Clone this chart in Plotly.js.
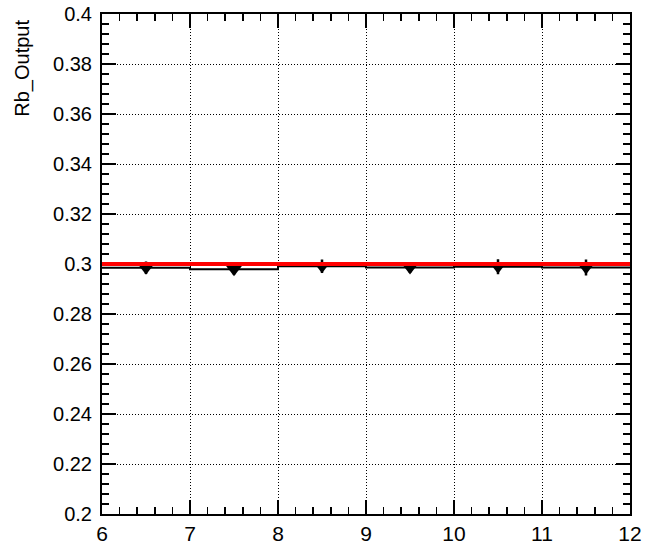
<!DOCTYPE html>
<html>
<head>
<meta charset="utf-8">
<script src="https://cdn.plot.ly/plotly-3.0.1.min.js"></script>
<style>html,body{margin:0;padding:0;background:#fff;}#chart{width:646px;height:545px;}</style>
</head>
<body>
<div id="chart"></div>
<script>
const binCenters = [6.5, 7.5, 8.5, 9.5, 10.5, 11.5];
const binWidth = 1;
const rbValues = [0.2985, 0.2979, 0.2991, 0.2986, 0.2989, 0.2986];
const rbErrors = [0.0025, 0.0022, 0.0027, 0.0022, 0.0030, 0.0032];
const refValue = 0.3;
const xTicks = [6, 7, 8, 9, 10, 11, 12];
const yTicks = [0.2, 0.22, 0.24, 0.26, 0.28, 0.3, 0.32, 0.34, 0.36, 0.38, 0.4];
const yTickLabels = ['0.2','0.22','0.24','0.26','0.28','0.3','0.32','0.34','0.36','0.38','0.4'];

// step outline from bin edges
const stepX = binCenters.map(c => c - binWidth / 2).concat([binCenters[binCenters.length - 1] + binWidth / 2]);
const stepY = rbValues.concat([rbValues[rbValues.length - 1]]);

const fam = 'Liberation Sans, Arial, sans-serif';

const traces = [
  {x: stepX, y: stepY, type: 'scatter', mode: 'lines', line: {shape: 'hv', color: '#000', width: 2}, hoverinfo: 'skip'},
  {x: binCenters, y: rbValues, type: 'scatter', mode: 'markers',
   marker: {symbol: 'triangle-down', size: 14, color: '#000'},
   error_y: {type: 'data', array: rbErrors, visible: true, color: '#000', thickness: 2.5, width: 0}}
];

const axisCommon = {
  showline: true, linecolor: '#000', linewidth: 2, mirror: 'allticks',
  ticks: 'inside', ticklen: 14, tickwidth: 1.5, tickcolor: '#000',
  showgrid: true, gridcolor: '#000', gridwidth: 1, griddash: '1px,2px',
  zeroline: false
};

const layout = {
  width: 646, height: 545,
  margin: {l: 102, r: 16, t: 14, b: 31},
  paper_bgcolor: '#fff', plot_bgcolor: '#fff',
  showlegend: false,
  xaxis: Object.assign({}, axisCommon, {
    range: [6, 12], tickmode: 'array', tickvals: xTicks, ticktext: xTicks.map(String),
    tickfont: {family: fam, size: 21, color: '#000'},
    minor: {dtick: 0.2, ticklen: 7, tickcolor: '#000', tickwidth: 1.5, ticks: 'inside', showgrid: false}
  }),
  yaxis: Object.assign({}, axisCommon, {
    range: [0.2, 0.4], tickmode: 'array', tickvals: yTicks, ticktext: yTickLabels,
    tickfont: {family: fam, size: 20, color: '#000'}, ticklabelstandoff: 4,
    minor: {dtick: 0.004, ticklen: 7, tickcolor: '#000', tickwidth: 1.5, ticks: 'inside', showgrid: false}
  }),
  shapes: [
    {type: 'line', xref: 'paper', x0: 0, x1: 1, yref: 'y', y0: refValue, y1: refValue, line: {color: '#ff0000', width: 4}}
  ],
  annotations: [
    {text: 'Rb_Output', xref: 'paper', yref: 'paper', x: -0.152, y: 0.993, xanchor: 'center', yanchor: 'top',
     textangle: -90, showarrow: false, font: {family: fam, size: 20, color: '#000'}}
  ]
};

Plotly.newPlot('chart', traces, layout, {displayModeBar: false, staticPlot: true});
</script>
</body>
</html>
